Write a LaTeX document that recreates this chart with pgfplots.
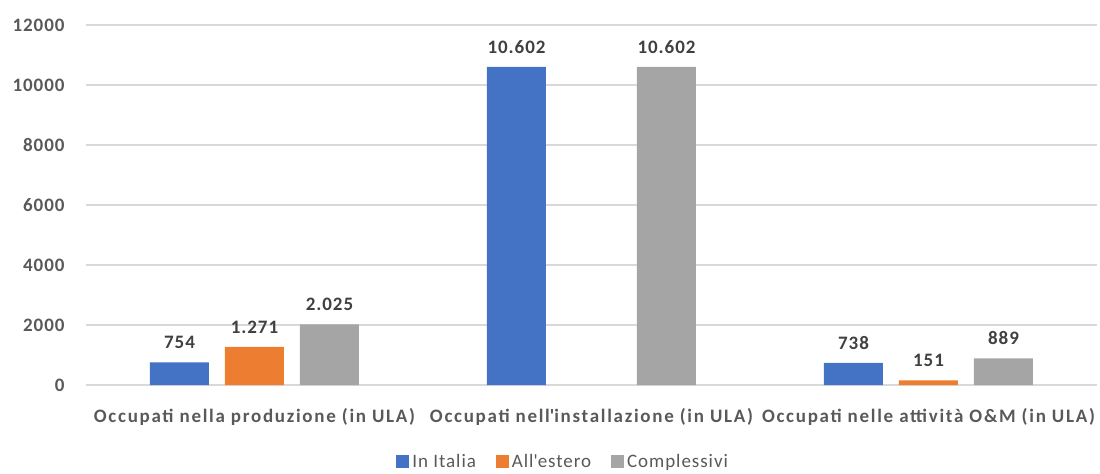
\documentclass[border=0pt]{standalone}
\usepackage{pgfplots}
\pgfplotsset{compat=1.18}
\usepackage{fontspec}
\setmainfont{Carlito}[LetterSpace=5]
\definecolor{cblue}{HTML}{4472C4}
\definecolor{corange}{HTML}{ED7D31}
\definecolor{cgray}{HTML}{A5A5A5}
\definecolor{tickgray}{HTML}{595959}
\definecolor{labgray}{HTML}{404040}
\definecolor{gridgray}{HTML}{D9D9D9}
\begin{document}
\begin{tikzpicture}[x=1pt,y=1pt]
\path (-86,-85) rectangle (1014,385);
\begin{axis}[
  at={(0,0)}, anchor=south west,
  scale only axis, width=1011pt, height=360pt,
  ybar=16pt, bar width=59pt,
  xmin=-0.5, xmax=2.5, ymin=0, ymax=12000,
  ytick={0,2000,...,12000},
  scaled y ticks=false,
  xtick=data,
  xticklabels={Occupati nella produzione (in ULA),Occupati nell\textquotesingle installazione (in ULA),Occupati nelle attività O\&M (in ULA)},
  axis line style={draw=none},
  major tick length=0pt,
  ymajorgrids, major grid style={gridgray, line width=1.2pt},
  /pgf/number format/assume math mode=true,
  yticklabel style={/pgf/number format/1000 sep={}, font=\fontsize{19}{22}\selectfont\bfseries, text=tickgray, anchor=east, xshift=-18pt},
  xticklabel style={font=\fontsize{19}{22}\selectfont\bfseries\addfontfeatures{LetterSpace=9}, text=tickgray, yshift=-20pt},
  nodes near coords={\pgfmathprintnumber[1000 sep={.}]{\pgfplotspointmeta}},
  every node near coord/.append style={font=\fontsize{19}{22}\selectfont\bfseries, text=labgray, yshift=10pt},
  legend style={at={(axis description cs:0.472,-0.214)}, anchor=center, draw=none, legend columns=3,
    font=\fontsize{19}{22}\selectfont, text=tickgray,
    /tikz/every odd column/.append style={column sep=1pt},
    /tikz/every even column/.append style={column sep=18pt}},
  legend image code/.code={\fill[#1] (0pt,-5.5pt) rectangle (13pt,7.5pt);},
  clip=false,
]
\addplot[fill=cblue, draw=none] coordinates {(0,754) (1,10602) (2,738)};
\addplot[fill=corange, draw=none] coordinates {(0,1271) (2,151)};
\addplot[fill=cgray, draw=none] coordinates {(0,2025) (1,10602) (2,889)};
\legend{In Italia,All\textquotesingle estero,Complessivi}
\end{axis}
\end{tikzpicture}
\end{document}
